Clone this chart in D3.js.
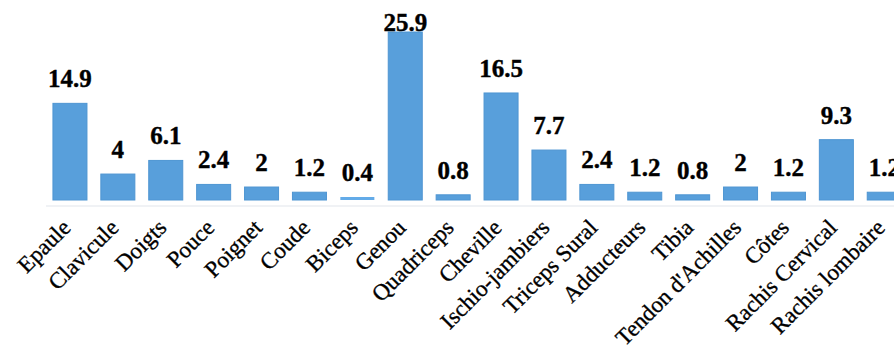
<!DOCTYPE html>
<html>
<head>
<meta charset="utf-8">
<script src="https://cdn.jsdelivr.net/npm/d3@7"></script>
<style>
  html, body { margin: 0; padding: 0; background: #fff; overflow: hidden; }
  svg { display: block; }
</style>
</head>
<body>
<div id="chart"></div>
<script>
// Injury locations (%)
const categories = ["Epaule", "Clavicule", "Doigts", "Pouce", "Poignet", "Coude", "Biceps", "Genou",
  "Quadriceps", "Cheville", "Ischio-jambiers", "Triceps Sural", "Adducteurs", "Tibia",
  "Tendon d'Achilles", "Côtes", "Rachis Cervical", "Rachis lombaire"];
const values = [14.9, 4, 6.1, 2.4, 2, 1.2, 0.4, 25.9, 0.8, 16.5, 7.7, 2.4, 1.2, 0.8, 2, 1.2, 9.3, 1.2];
const valueLabels = ["14.9", "4", "6.1", "2.4", "2", "1.2", "0.4", "25.9", "0.8", "16.5", "7.7", "2.4", "1.2", "0.8", "2", "1.2", "9.3", "1.2"];

const W = 894, H = 356;
const baseY = 200, topY = 32;

const svg = d3.select("#chart").append("svg")
  .attr("width", W).attr("height", H);

const data = categories.map((c, i) => ({ cat: c, v: values[i], label: valueLabels[i] }));

const x = d3.scaleBand()
  .domain(categories)
  .range([46, 46 + categories.length * 47.9])
  .paddingInner(0.29)
  .paddingOuter(0.145);

const y = d3.scaleLinear()
  .domain([0, d3.max(values)])
  .range([baseY, topY]);

// faint baseline under the bars
svg.append("line")
  .attr("x1", x.range()[0]).attr("x2", W)
  .attr("y1", baseY + 6).attr("y2", baseY + 6)
  .attr("stroke", "#f0f2f5").attr("stroke-width", 2);

// bars
svg.append("g").selectAll("rect")
  .data(data)
  .join("rect")
  .attr("x", d => x(d.cat))
  .attr("width", x.bandwidth())
  .attr("y", d => Math.min(y(d.v), baseY - 3))
  .attr("height", d => Math.max(baseY - y(d.v), 3))
  .attr("fill", d => d.v < 0.5 ? "#63ABE8" : "#589FDB")
  .attr("stroke", d => d.v < 0.5 ? "none" : "#4E95D2")
  .attr("stroke-width", 1);

// value labels above bars (kept inside the top edge)
svg.append("g").selectAll("text")
  .data(data)
  .join("text")
  .attr("x", d => x(d.cat) + x.bandwidth() / 2)
  .attr("y", d => Math.max(y(d.v) - 16, topY - 1))
  .attr("text-anchor", "middle")
  .attr("font-family", "'Liberation Serif', 'Times New Roman', serif")
  .attr("font-weight", "bold")
  .attr("font-size", 25)
  .attr("fill", "#000")
  .attr("stroke", "#000")
  .attr("stroke-width", 0.4)
  .text(d => d.label);

// rotated category labels
svg.append("g").selectAll("text")
  .data(data)
  .join("text")
  .attr("transform", d => `translate(${x(d.cat) + x.bandwidth() / 2 + 2},${baseY + 29}) rotate(-45)`)
  .attr("text-anchor", "end")
  .attr("font-family", "'Liberation Serif', 'Times New Roman', serif")
  .attr("font-size", 23)
  .attr("fill", "#000")
  .attr("stroke", "#000")
  .attr("stroke-width", 0.35)
  .text(d => d.cat);
</script>
</body>
</html>
